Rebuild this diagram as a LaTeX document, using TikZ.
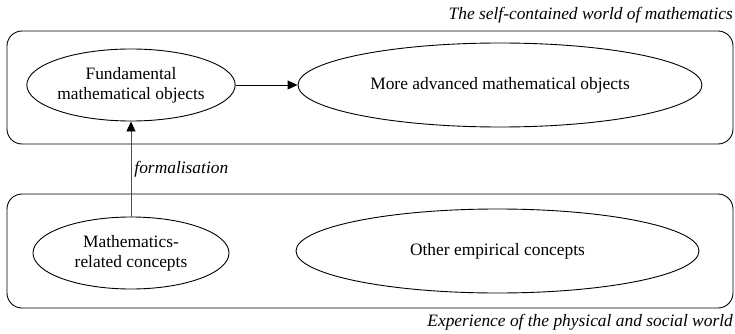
\documentclass[tikz,border=0pt]{standalone}
\usepackage{fontspec}
\setmainfont{Liberation Serif}
\usetikzlibrary{shapes.geometric,arrows.meta}
\begin{document}
\begin{tikzpicture}[x=1pt,y=-1pt,
  every node/.style={font=\fontsize{17.4}{20}\selectfont},
  world/.style={draw,rounded corners=15pt,line width=0.9pt,minimum width=726pt,inner sep=0pt},
  concept/.style={draw,ellipse,line width=0.9pt,inner sep=0pt,align=center},
  conn/.style={line width=0.9pt,-{Triangle[length=10pt,width=9pt,color=black]}},
  caption/.style={font=\itshape\fontsize{17.4}{20}\selectfont,inner sep=0pt}]
\useasboundingbox (0,0) rectangle (735,334);
\node[world,minimum height=113pt] (top) at (370,87.5) {};
\node[world,minimum height=114pt] (bot) at (370,251) {};
\node[concept,minimum width=195pt,minimum height=72pt] (fund) at (131,85) {Fundamental\\mathematical objects};
\node[concept,minimum width=404pt,minimum height=84pt] (adv) at (500,85) {More advanced mathematical objects};
\node[concept,minimum width=196pt,minimum height=72pt] (rel) at (131,253) {Mathematics-\\related concepts};
\node[concept,minimum width=403pt,minimum height=84pt] (emp) at (497.5,251) {Other empirical concepts};
\node[caption,anchor=east] (ttop) at (733,15) {The self-contained world of mathematics};
\node[caption,anchor=east] (tbot) at (733,322) {Experience of the physical and social world};
\draw[conn] (fund) -- (adv);
\draw[conn,draw=black!70] (rel) -- node[caption,right=3pt,pos=0.5] (lab) {formalisation} (fund);
\end{tikzpicture}
\end{document}
